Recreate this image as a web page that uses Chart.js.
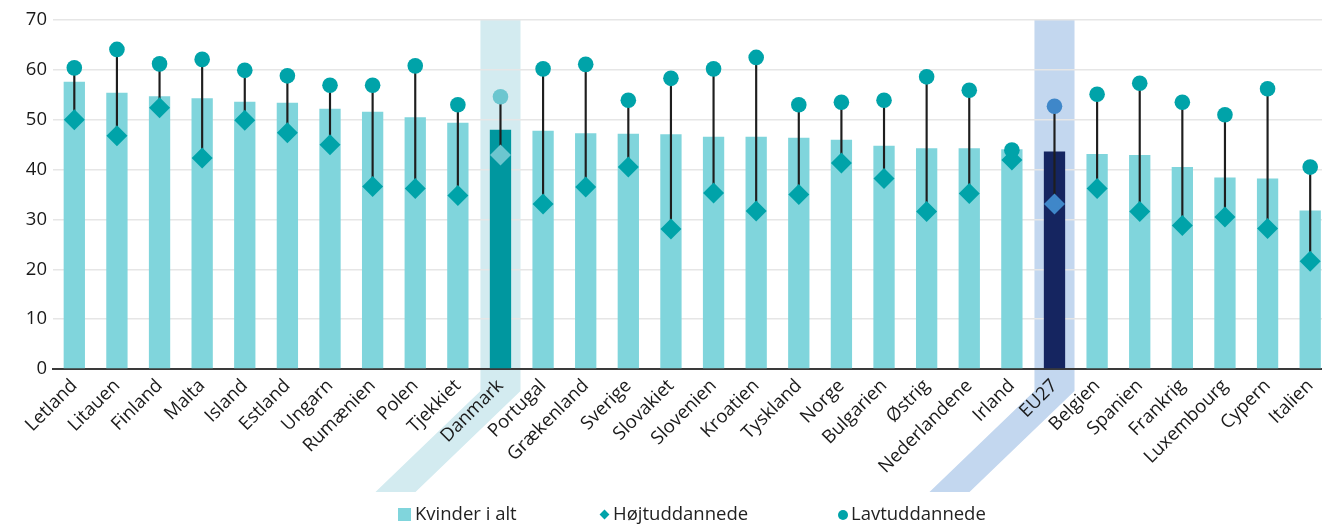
<!DOCTYPE html>
<html lang="da">
<head>
<meta charset="utf-8">
<title>Kvinder i alt, højt- og lavtuddannede</title>
<script src="https://cdn.jsdelivr.net/npm/chart.js@4.4.1/dist/chart.umd.min.js"></script>
<style>
  html, body { margin: 0; padding: 0; background: #fff; overflow: hidden; }
  #wrap { position: absolute; left: 0; top: 0; width: 1342px; height: 526px; }
  .legend { position: absolute; left: 0; top: 0; width: 1322px; height: 526px; pointer-events: none;
            font: 18.5px/22px "Open Sans", sans-serif; color: #222; }
  .item { position: absolute; top: 502px; height: 22px; line-height: 22px; display: flex; align-items: center; white-space: nowrap; }
  .sq { width: 13px; height: 13px; background: #80d5dc; margin-right: 4px; margin-top: 3px; }
  .dia { width: 7px; height: 7px; background: #00a3a9; transform: rotate(45deg); margin: 3px 5px 0 2px; }
  .dot { width: 10px; height: 10px; border-radius: 50%; background: #00a3a9; margin: 3px 3px 0 0; }
</style>
</head>
<body>
<div id="wrap"><canvas id="chart" width="1342" height="526"></canvas></div>
<div class="legend">
  <div class="item" style="left:398px"><span class="sq"></span>Kvinder i alt</div>
  <div class="item" style="left:599px"><span class="dia"></span>Højtuddannede</div>
  <div class="item" style="left:838px"><span class="dot"></span>Lavtuddannede</div>
</div>
<script>
// Lande (samt EU27), sorteret efter andel for kvinder i alt
const categories = ["Letland", "Litauen", "Finland", "Malta", "Island", "Estland", "Ungarn", "Rumænien",
  "Polen", "Tjekkiet", "Danmark", "Portugal", "Grækenland", "Sverige", "Slovakiet", "Slovenien",
  "Kroatien", "Tyskland", "Norge", "Bulgarien", "Østrig", "Nederlandene", "Irland", "EU27",
  "Belgien", "Spanien", "Frankrig", "Luxembourg", "Cypern", "Italien"];

const kvinderIAlt = [57.6, 55.4, 54.7, 54.3, 53.6, 53.4, 52.2, 51.6, 50.5, 49.4,
  48.0, 47.8, 47.3, 47.2, 47.1, 46.6, 46.6, 46.4, 46.0, 44.8,
  44.3, 44.3, 44.1, 43.6, 43.1, 42.9, 40.5, 38.4, 38.2, 31.8];

const hoejtuddannede = [50.0, 46.8, 52.4, 42.3, 49.9, 47.4, 45.0, 36.6, 36.2, 34.8,
  42.9, 33.1, 36.5, 40.5, 28.1, 35.3, 31.7, 35.0, 41.3, 38.2,
  31.6, 35.2, 41.9, 33.1, 36.2, 31.6, 28.8, 30.5, 28.2, 21.6];

const lavtuddannede = [60.4, 64.1, 61.2, 62.1, 59.9, 58.8, 56.9, 56.9, 60.8, 53.0,
  54.6, 60.2, 61.1, 53.9, 58.3, 60.2, 62.5, 53.0, 53.5, 53.9,
  58.6, 55.9, 43.9, 52.7, 55.1, 57.3, 53.5, 51.0, 56.2, 40.5];

const yTicks = [0, 10, 20, 30, 40, 50, 60, 70];

// Fremhævede søjler og deres farver
const highlightDK = "Danmark";
const highlightEU = "EU27";

const COL = {
  bar: "#80d5dc", barDK: "#00979f", barEU: "#152560",
  marker: "#00a3a9", markerDK: "#6cc6cf", markerEU: "#3f87c9",
  bandDK: "#d3ebf0", bandEU: "#c3d7ef", stem: "#1e1e1e"
};

const pick = (name, normal, dk, eu) => name === highlightDK ? dk : (name === highlightEU ? eu : normal);
const barColors = categories.map(c => pick(c, COL.bar, COL.barDK, COL.barEU));
const markerColors = categories.map(c => pick(c, COL.marker, COL.markerDK, COL.markerEU));
const stems = categories.map((c, i) => [hoejtuddannede[i], lavtuddannede[i]]);

// Baggrundsbånd bag de fremhævede kategorier, ført skråt ned under aksens etiketter
const bandPlugin = {
  id: "bands",
  beforeDraw(chart) {
    const { ctx, chartArea, scales } = chart;
    const x = scales.x;
    const step = x.getPixelForValue(1) - x.getPixelForValue(0);
    const half = step * 0.47;
    const yKnee = chartArea.bottom + 22;
    const yEnd = chartArea.bottom + 123;
    const shift = 105;
    [[highlightDK, COL.bandDK], [highlightEU, COL.bandEU]].forEach(([name, color]) => {
      const cx = x.getPixelForValue(categories.indexOf(name));
      ctx.save();
      ctx.fillStyle = color;
      ctx.beginPath();
      ctx.moveTo(cx - half, chartArea.top);
      ctx.lineTo(cx + half, chartArea.top);
      ctx.lineTo(cx + half, yKnee);
      ctx.lineTo(cx + half - shift, yEnd);
      ctx.lineTo(cx - half - shift, yEnd);
      ctx.lineTo(cx - half, yKnee);
      ctx.closePath();
      ctx.fill();
      ctx.restore();
    });
  }
};

const font = { family: "'Open Sans', sans-serif", size: 18.5 };

new Chart(document.getElementById("chart"), {
  data: {
    labels: categories,
    datasets: [
      {
        type: "line", label: "Lavtuddannede", data: lavtuddannede, showLine: false,
        pointStyle: "circle", pointRadius: 7.8, pointHoverRadius: 7.8, pointBorderWidth: 0,
        pointBackgroundColor: markerColors, pointBorderColor: markerColors, order: 0
      },
      {
        type: "line", label: "Højtuddannede", data: hoejtuddannede, showLine: false,
        pointStyle: "rectRot", pointRadius: 10.5, pointHoverRadius: 10.5, pointBorderWidth: 0,
        pointBackgroundColor: markerColors, pointBorderColor: markerColors, order: 1
      },
      {
        type: "bar", label: "stem", data: stems, backgroundColor: COL.stem,
        barThickness: 1.5, grouped: false, order: 2
      },
      {
        type: "bar", label: "Kvinder i alt", data: kvinderIAlt, backgroundColor: barColors,
        barPercentage: 0.5, categoryPercentage: 1, grouped: false, order: 3
      }
    ]
  },
  options: {
    responsive: false,
    animation: false,
    devicePixelRatio: 1,
    layout: { padding: { top: 20, right: 0, bottom: 0, left: 0 } },
    plugins: { legend: { display: false }, tooltip: { enabled: false } },
    scales: {
      x: {
        offset: true,
        grid: { display: false, drawTicks: false },
        border: { display: true, color: "#3a3a3a", width: 2 },
        ticks: {
          autoSkip: false, minRotation: 45, maxRotation: 45, padding: 6,
          color: "#1a1a1a", font
        },
        afterFit(scale) { scale.height = 157; }
      },
      y: {
        min: 0, max: 70,
        afterBuildTicks(scale) { scale.ticks = yTicks.map(v => ({ value: v })); },
        grid: { color: "#e6e6e6", lineWidth: 1.5, drawTicks: false },
        border: { display: false },
        ticks: { padding: 6, color: "#1a1a1a", font },
        afterFit(scale) { scale.width = 53; }
      }
    }
  },
  plugins: [bandPlugin]
});
</script>
</body>
</html>
